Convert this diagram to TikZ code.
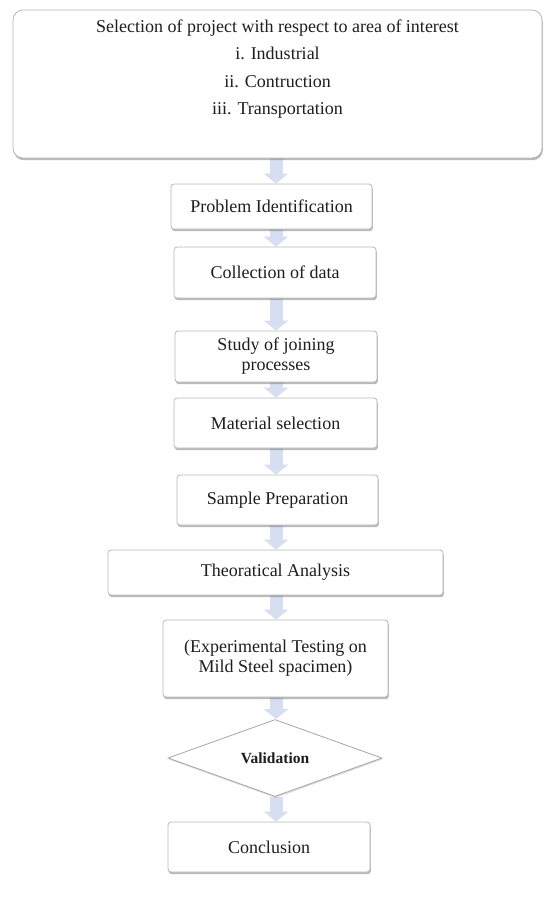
\documentclass[tikz,border=0pt]{standalone}
\usepackage{fontspec}
\setmainfont{Liberation Serif}
\usetikzlibrary{shapes.geometric,shadows,arrows.meta,backgrounds}
\definecolor{arrowfill}{RGB}{214,222,242}
\definecolor{txt}{RGB}{30,30,30}
\begin{document}
\begin{tikzpicture}[x=1pt,y=-1pt,
  box/.style={draw=black!28, line width=0.8pt, fill=white, rounded corners=3pt,
    drop shadow={shadow xshift=0.8pt, shadow yshift=-2.2pt, opacity=0.5, fill=black!55},
    inner sep=2pt, align=center, font=\fontsize{18}{20}\selectfont, text=txt},
  decision/.style={diamond, aspect=2.8, draw=black!35, line width=0.8pt, fill=white,
    drop shadow={shadow xshift=0.6pt, shadow yshift=-1.5pt, opacity=0.25, fill=black!55},
    inner sep=0pt, minimum width=214pt, minimum height=77pt,
    font=\bfseries\fontsize{15.5}{18}\selectfont, text=txt},
  blockarrow/.style={line width=13pt, draw=arrowfill, -{Triangle[width=24pt,length=10pt]}}
]
\useasboundingbox (0,0) rectangle (544,898);

\coordinate (axis) at (276,0);

\node[box, rounded corners=10pt, minimum width=529pt, minimum height=148pt] (top) at (277.5,84) {};
\node[align=center, font=\fontsize{18}{27.3}\selectfont, text=txt] (toptext) at (277.5,69)
  {Selection of project with respect to area of interest\\ i. Industrial\\ ii. Contruction\\ iii. Transportation};

\node[box, minimum width=201pt, minimum height=45pt] (prob) at (271.5,206.5) {Problem Identification};
\node[box, minimum width=202pt, minimum height=51pt] (coll) at (275,272.5) {Collection of data};
\node[box, minimum width=202pt, minimum height=51pt] (study) at (276,356.5) {Study of joining\\ processes};
\node[box, minimum width=203pt, minimum height=50pt] (mat) at (275.5,423) {Material selection};
\node[box, minimum width=201pt, minimum height=50pt] (samp) at (277.5,500) {Sample Preparation};
\node[box, minimum width=335pt, minimum height=45pt] (theo) at (275.5,572.5) {Theoratical Analysis};
\node[box, minimum width=225pt, minimum height=77pt] (exp) at (275.5,658.5) {(Experimental Testing on\\ Mild Steel spacimen)};
\node[decision] (val) at (275,758) {Validation};
\node[box, minimum width=202pt, minimum height=50pt] (conc) at (269,847) {Conclusion};

\begin{scope}[on background layer]
  \draw[blockarrow] (top.south -| axis) -- (prob.north -| axis);
  \draw[blockarrow] (prob.south -| axis) -- (coll.north -| axis);
  \draw[blockarrow] (coll.south -| axis) -- (study.north -| axis);
  \draw[blockarrow] (study.south -| axis) -- (mat.north -| axis);
  \draw[blockarrow] (mat.south -| axis) -- (samp.north -| axis);
  \draw[blockarrow] (samp.south -| axis) -- (theo.north -| axis);
  \draw[blockarrow] (theo.south -| axis) -- (exp.north -| axis);
  \draw[blockarrow] (exp.south -| axis) -- (val.north -| axis);
  \draw[blockarrow] (val.south -| axis) -- (conc.north -| axis);
\end{scope}
\end{tikzpicture}
\end{document}
